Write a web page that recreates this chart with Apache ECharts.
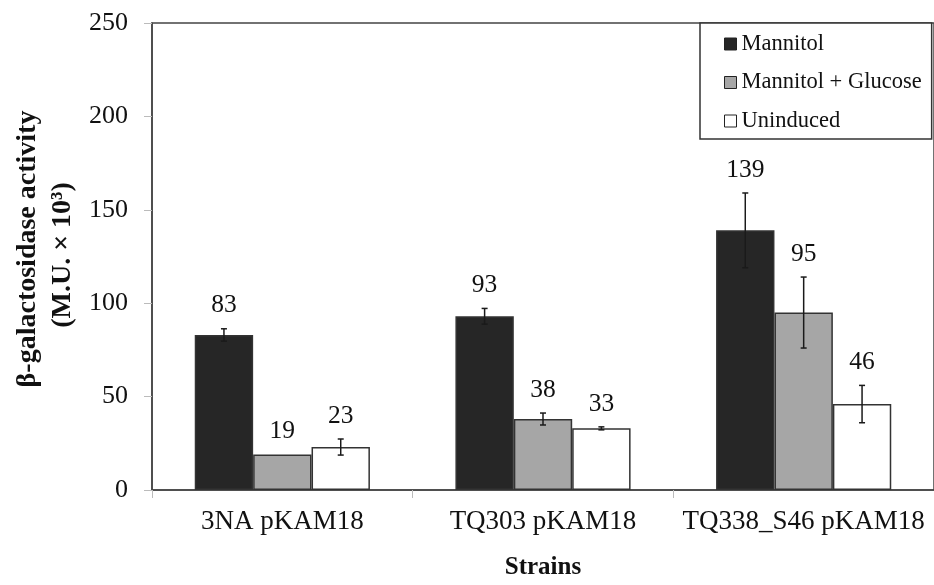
<!DOCTYPE html>
<html>
<head>
<meta charset="utf-8">
<script src="https://cdn.jsdelivr.net/npm/echarts@6/dist/echarts.min.js"></script>
<style>
html,body{margin:0;padding:0;background:#fff;}
#chart{width:934px;height:585px;}
</style>
</head>
<body>
<div id="chart"></div>
<script>
const categories = ['3NA pKAM18', 'TQ303 pKAM18', 'TQ338_S46 pKAM18'];
const seriesNames = ['Mannitol', 'Mannitol + Glucose', 'Uninduced'];
const mannitol = [83, 93, 139];
const mannitolGlucose = [19, 38, 95];
const uninduced = [23, 33, 46];
const mannitolErr = [3.3, 4.2, 20];
const mannitolGlucoseErr = [0, 3.2, 19];
const uninducedErr = [4.3, 0.8, 10];
const yTicks = [0, 50, 100, 150, 200, 250];

const values = [mannitol, mannitolGlucose, uninduced];
const errors = [mannitolErr, mannitolGlucoseErr, uninducedErr];
const fills = ['#262626', '#a6a6a6', '#ffffff'];
const FONT = 'Liberation Serif';
const BAR_FRAC = 0.224;

const errData = [];
values.forEach((arr, s) => arr.forEach((v, c) => errData.push([c, s, v, errors[s][c]])));

const barSeries = seriesNames.map((name, s) => ({
  name: name,
  type: 'bar',
  data: values[s],
  barWidth: (BAR_FRAC * 100) + '%',
  barGap: '0%',
  itemStyle: { color: fills[s], borderColor: '#333', borderWidth: 1.5 },
  z: 2
}));

const errSeries = {
  type: 'custom',
  data: errData,
  z: 5,
  clip: false,
  silent: true,
  renderItem: function (params, api) {
    const c = api.value(0), s = api.value(1), v = api.value(2), e = api.value(3);
    const band = api.size([1, 0])[0];
    const off = (s - 1) * band * BAR_FRAC;
    const top = api.coord([c, v + e]);
    const bot = api.coord([c, v - e]);
    const x = top[0] + off;
    const children = [];
    const st = { stroke: '#1a1a1a', lineWidth: 1.5 };
    if (e > 0) {
      children.push({ type: 'line', shape: { x1: x, y1: top[1], x2: x, y2: bot[1] }, style: st });
      children.push({ type: 'line', shape: { x1: x - 3, y1: top[1], x2: x + 3, y2: top[1] }, style: st });
      children.push({ type: 'line', shape: { x1: x - 3, y1: bot[1], x2: x + 3, y2: bot[1] }, style: st });
    }
    children.push({
      type: 'text',
      style: {
        text: String(Math.round(v)),
        x: x, y: top[1] - 23,
        align: 'center', verticalAlign: 'middle',
        font: '25.5px "' + FONT + '"', fill: '#111'
      }
    });
    return { type: 'group', children: children };
  }
};

const option = {
  animation: false,
  backgroundColor: '#fff',
  grid: {
    left: 152, top: 23, width: 793, height: 468,
    show: true, borderColor: '#444', borderWidth: 1.5, backgroundColor: 'transparent'
  },
  legend: {
    data: seriesNames,
    orient: 'vertical',
    left: 700, top: 23,
    padding: [8, 10, 5, 24],
    itemGap: 12.5,
    itemWidth: 12, itemHeight: 12,
    icon: 'rect',
    backgroundColor: '#fff',
    borderColor: '#333', borderWidth: 1.5,
    itemStyle: { borderColor: '#222', borderWidth: 1 },
    textStyle: { fontFamily: FONT, fontSize: 22.5, color: '#111', lineHeight: 26 }
  },
  xAxis: {
    type: 'category',
    data: categories,
    axisLine: { show: true, lineStyle: { color: '#444', width: 1.5 } },
    axisTick: { show: true, length: 8, lineStyle: { color: '#bbb' } },
    axisLabel: { fontFamily: FONT, fontSize: 27, color: '#111', margin: 18, interval: 0, hideOverlap: false },
    name: 'Strains',
    nameLocation: 'middle',
    nameGap: 65,
    nameTextStyle: { fontFamily: FONT, fontSize: 25, fontWeight: 'bold', color: '#111' }
  },
  yAxis: {
    type: 'value',
    min: yTicks[0], max: yTicks[yTicks.length - 1], interval: yTicks[1] - yTicks[0],
    splitLine: { show: false },
    axisLine: { show: true, lineStyle: { color: '#444', width: 1.5 } },
    axisTick: { show: true, length: 8, lineStyle: { color: '#bbb' } },
    axisLabel: { fontFamily: FONT, fontSize: 26, color: '#111', margin: 24 }
  },
  graphic: [
    {
      type: 'text', rotation: Math.PI / 2, x: 28, y: 249,
      style: { text: 'β-galactosidase activity', font: 'bold 28px "' + FONT + '"', fill: '#111', align: 'center', verticalAlign: 'middle' }
    },
    {
      type: 'text', rotation: Math.PI / 2, x: 63, y: 255,
      style: { text: '(M.U. × 10³)', font: 'bold 28px "' + FONT + '"', fill: '#111', align: 'center', verticalAlign: 'middle' }
    }
  ],
  series: barSeries.concat([errSeries])
};

const chart = echarts.init(document.getElementById('chart'), null, { renderer: 'canvas' });
chart.setOption(option);
</script>
</body>
</html>
